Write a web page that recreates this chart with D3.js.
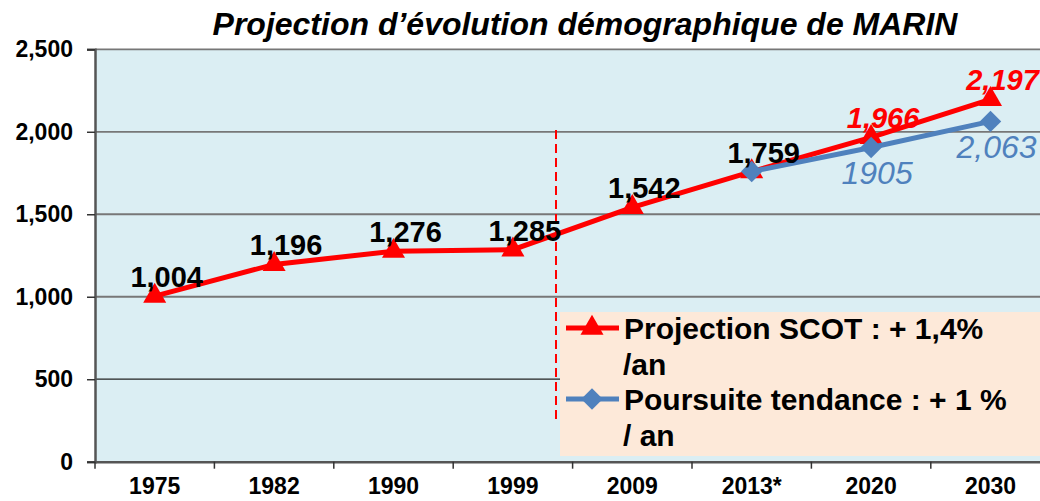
<!DOCTYPE html>
<html>
<head>
<meta charset="utf-8">
<script src="https://cdn.jsdelivr.net/npm/d3@7"></script>
<style>
  body { margin: 0; background: #fff; }
  svg { display: block; font-family: "Liberation Sans", Arial, sans-serif; }
</style>
</head>
<body>
<svg id="chart" width="1040" height="501"></svg>
<script>
// data
const years = ["1975", "1982", "1990", "1999", "2009", "2013*", "2020", "2030"];
const scot = [1004, 1196, 1276, 1285, 1542, 1759, 1966, 2197];
const tendYears = ["2013*", "2020", "2030"];
const tendance = [1759, 1905, 2063];
const tendLabels = ["", "1905", "2,063"];
const yTicks = [0, 500, 1000, 1500, 2000, 2500];
const title = "Projection d’évolution démographique de MARIN";
const legendScot = ["Projection SCOT : + 1,4%", "/an"];
const legendTend = ["Poursuite tendance : + 1 %", "/ an"];

const red = "#FF0000", blue = "#4F81BD";

const svg = d3.select("#chart");

// plot area runs off the right edge like in the original
const x = d3.scaleBand().domain(years).range([95, 95 + 8 * 119.4]).padding(0);
const y = d3.scaleLinear().domain([0, 2500]).range([461.7, 49.3]);
const cx = d => x(d) + x.bandwidth() / 2;

// background
svg.append("rect")
  .attr("x", x.range()[0]).attr("y", y(2500))
  .attr("width", x.range()[1] - x.range()[0]).attr("height", y(0) - y(2500))
  .attr("fill", "#DBEEF3");

// gridlines
svg.append("g").selectAll("line")
  .data(yTicks.filter(d => d > 0))
  .join("line")
  .attr("x1", x.range()[0]).attr("x2", x.range()[1])
  .attr("y1", d => y(d)).attr("y2", d => y(d))
  .attr("stroke", d => d === 500 ? "#222" : "#777")
  .attr("stroke-width", d => d === 500 ? 1.2 : 1.8);

// axes
const yAxis = svg.append("g")
  .attr("transform", `translate(${x.range()[0]},0)`)
  .call(d3.axisLeft(y).tickValues(yTicks).tickFormat(d3.format(",")).tickSize(8).tickPadding(14));
yAxis.select(".domain").attr("stroke", "#555").attr("stroke-width", 2.5);
yAxis.selectAll(".tick line").attr("stroke", "#333").attr("stroke-width", 1.5);
yAxis.selectAll(".tick text")
  .attr("font-size", 23).attr("font-weight", "bold").attr("fill", "#000")
  .attr("font-family", "Liberation Sans, Arial, sans-serif");

const xAxis = svg.append("g")
  .attr("transform", `translate(0,${y(0)})`)
  .call(d3.axisBottom(x).tickSize(0).tickPadding(16).tickSizeOuter(0));
xAxis.select(".domain").attr("stroke", "#555").attr("stroke-width", 2.5);
xAxis.selectAll(".tick text")
  .attr("font-size", 23).attr("font-weight", "bold").attr("fill", "#000")
  .attr("font-family", "Liberation Sans, Arial, sans-serif");

// category boundary ticks
svg.append("g").selectAll("line")
  .data(years)
  .join("line")
  .attr("x1", d => x(d)).attr("x2", d => x(d))
  .attr("y1", y(0)).attr("y2", y(0) + 7)
  .attr("stroke", "#333").attr("stroke-width", 1.5);

// dashed separator between history and projection
svg.append("line")
  .attr("x1", 556).attr("x2", 556)
  .attr("y1", 130).attr("y2", 422)
  .attr("stroke", red).attr("stroke-width", 2)
  .attr("stroke-dasharray", "9,5");

const tri = d3.symbol().type(d3.symbolTriangle).size(230);
const dia = d3.symbol().type(d3.symbolSquare).size(230);

const line = d3.line();

// SCOT series
svg.append("path")
  .attr("d", line(years.map((d, i) => [cx(d), y(scot[i])])))
  .attr("fill", "none").attr("stroke", red).attr("stroke-width", 5);
svg.append("g").selectAll("path")
  .data(years)
  .join("path")
  .attr("d", tri)
  .attr("transform", (d, i) => `translate(${cx(d)},${y(scot[i])})`)
  .attr("fill", red);

// tendance series
svg.append("path")
  .attr("d", line(tendYears.map((d, i) => [cx(d), y(tendance[i])])))
  .attr("fill", "none").attr("stroke", blue).attr("stroke-width", 5);
svg.append("g").selectAll("path")
  .data(tendYears)
  .join("path")
  .attr("d", dia)
  .attr("transform", (d, i) => `translate(${cx(d)},${y(tendance[i])}) rotate(45)`)
  .attr("fill", blue);

// labels
svg.append("g").selectAll("text")
  .data(years)
  .join("text")
  .attr("x", d => cx(d) + 12)
  .attr("y", (d, i) => y(scot[i]) - 9)
  .attr("text-anchor", "middle")
  .attr("font-size", 29).attr("font-weight", "bold")
  .attr("font-style", (d, i) => i >= 6 ? "italic" : "normal")
  .attr("fill", (d, i) => i >= 6 ? red : "#000")
  .text((d, i) => d3.format(",")(scot[i]));

svg.append("g").selectAll("text")
  .data(tendYears)
  .join("text")
  .attr("x", d => cx(d) + 6)
  .attr("y", (d, i) => y(tendance[i]) + 37)
  .attr("text-anchor", "middle")
  .attr("font-size", 32).attr("font-style", "italic")
  .attr("fill", blue)
  .text((d, i) => tendLabels[i]);

// legend
const lg = svg.append("g");
lg.append("rect")
  .attr("x", 560).attr("y", 312).attr("width", 490).attr("height", 144)
  .attr("fill", "#FDE9D9");

const items = [
  { color: red, sym: tri, rot: 0, lines: legendScot, y0: 328 },
  { color: blue, sym: dia, rot: 45, lines: legendTend, y0: 399 }
];
items.forEach(it => {
  lg.append("line")
    .attr("x1", 566).attr("x2", 619).attr("y1", it.y0).attr("y2", it.y0)
    .attr("stroke", it.color).attr("stroke-width", 5);
  lg.append("path")
    .attr("d", it.sym)
    .attr("transform", `translate(592,${it.y0}) rotate(${it.rot})`)
    .attr("fill", it.color);
  lg.append("text")
    .attr("x", 624).attr("y", it.y0 + 11)
    .attr("font-size", 30).attr("font-weight", "bold").attr("fill", "#000")
    .selectAll("tspan")
    .data(it.lines)
    .join("tspan")
    .attr("x", (d, i) => i === 0 ? 624 : 623)
    .attr("dy", (d, i) => i === 0 ? 0 : 36)
    .text(d => d);
});

// title
svg.append("text")
  .attr("x", 585).attr("y", 35)
  .attr("text-anchor", "middle")
  .attr("font-size", 32).attr("font-weight", "bold").attr("font-style", "italic")
  .attr("fill", "#000")
  .text(title);
</script>
</body>
</html>
